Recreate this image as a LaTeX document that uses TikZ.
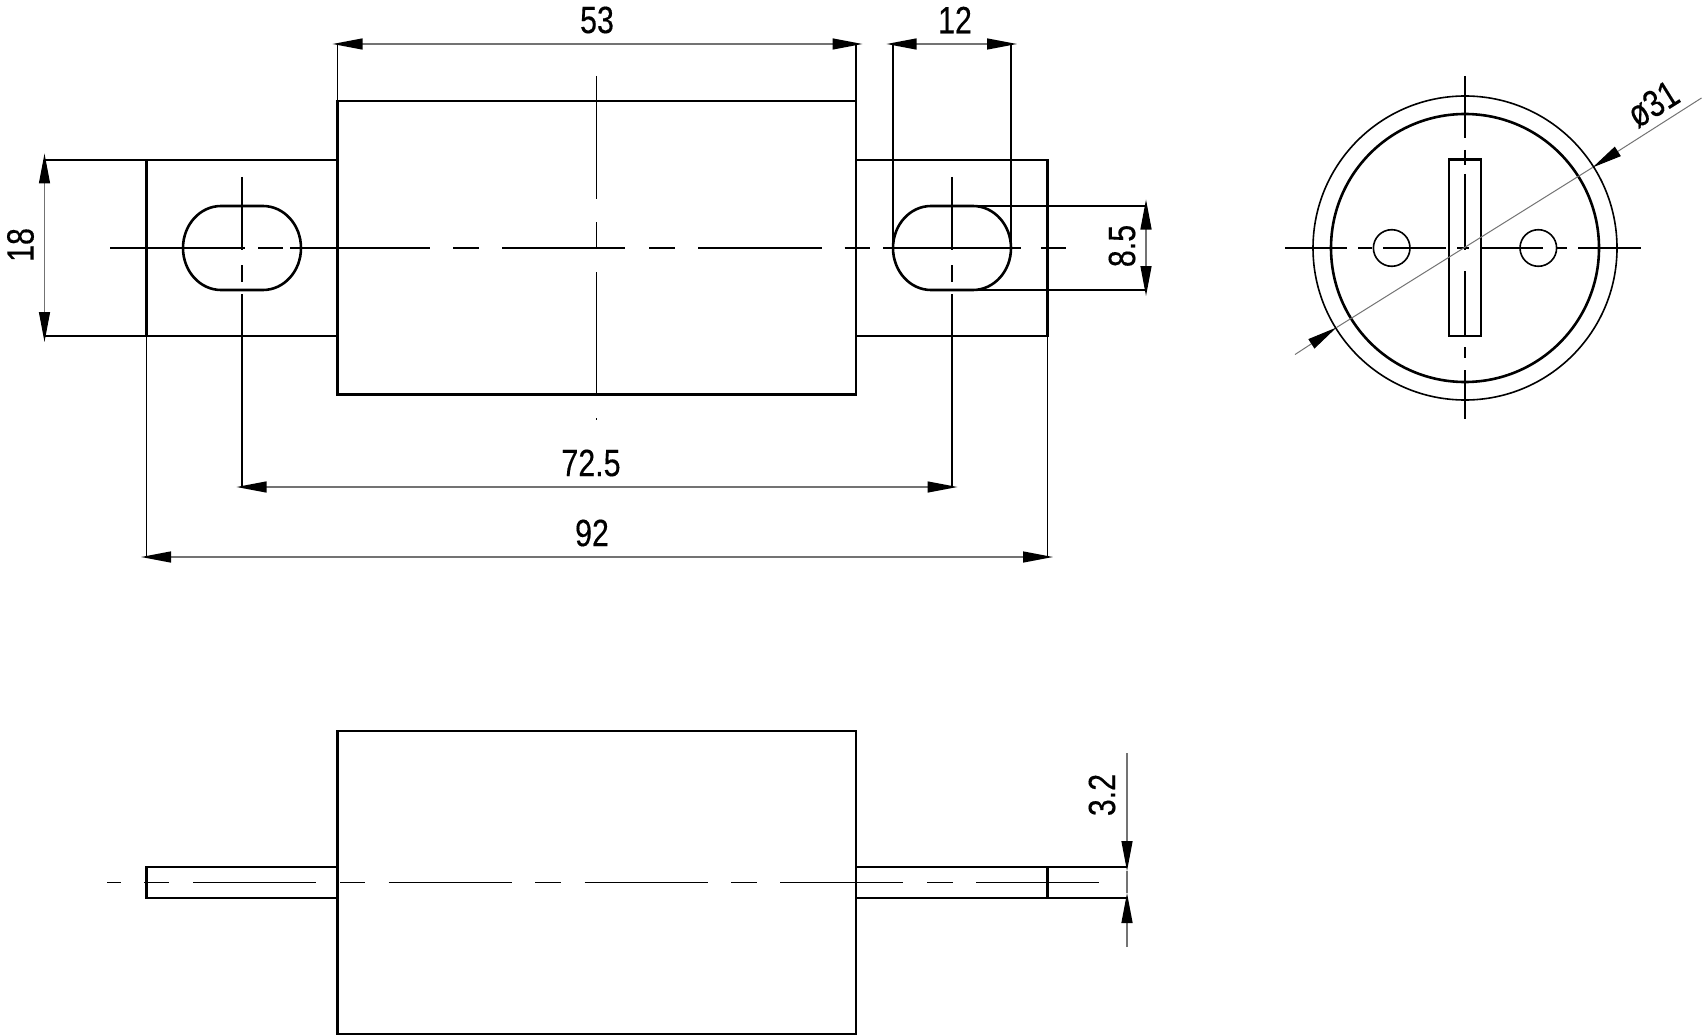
\documentclass[tikz,border=0pt]{standalone}
\usepackage{fontspec}
\usetikzlibrary{arrows.meta}
\newfontfamily\dimfont[FakeStretch=0.8,FakeBold=0.3]{Liberation Sans}
\tikzset{
  outline/.style={draw=black, line width=2.6pt},
  thinline/.style={draw=black, line width=1.6pt},
  dimline/.style={draw=black!55, line width=1.3pt},
  dimtip/.style={-{Triangle[length=30pt,width=11pt,color=black]}},
  bothtips/.style={{Triangle[length=30pt,width=11pt,color=black]}-{Triangle[length=30pt,width=11pt,color=black]}},
  dimtext/.style={inner sep=0pt, font=\dimfont\fontsize{38}{38}\selectfont},
}

\begin{document}
\begin{tikzpicture}[x=1pt,y=-1pt]
\useasboundingbox (0,0) rectangle (1702,1035);

% front view
\draw[outline] (146.5,160) rectangle (337.5,336);
\draw[outline] (856,160) rectangle (1047.5,336);
\draw[outline, fill=white] (337.5,101) rectangle (856,394.5);
\foreach \cx in {242,952}
  \draw[outline] (\cx-21,206) -- (\cx+21,206)
    arc[start angle=-90,end angle=90,x radius=38,y radius=42]
    -- (\cx-21,290)
    arc[start angle=90,end angle=270,x radius=38,y radius=42] -- cycle;

% center lines
\foreach \a/\b in {110/245,258/283,290/430,453/479,502/625,649/675,698/822,844.5/870,883/1021,1041/1066}
  \draw[thinline] (\a,248) -- (\b,248);
\foreach \cx in {242,952}
  \foreach \a/\b in {177/250,265/282,294/488}
    \draw[thinline] (\cx,\a) -- (\cx,\b);
\foreach \a/\b in {76/199,222/248,272/394,418/420}
  \draw[thinline] (596.5,\a) -- (596.5,\b);

% extension lines
\draw[thinline] (337.5,44) -- (337.5,101);
\draw[thinline] (856,44) -- (856,160);
\draw[thinline] (893,44) -- (893,248);
\draw[thinline] (1011,44) -- (1011,248);
\draw[thinline] (44.5,160) -- (146.5,160);
\draw[thinline] (44.5,336) -- (146.5,336);
\draw[thinline] (146.5,336) -- (146.5,557);
\draw[thinline] (1047.5,336) -- (1047.5,557);
\draw[thinline] (973,206) -- (1146,206);
\draw[thinline] (973,290) -- (1146,290);

% dimensions
\draw[dimline, bothtips] (332.5,44) -- (862.5,44);
\draw[dimline, bothtips] (886.5,44) -- (1017,44);
\draw[dimline, bothtips] (44.5,153.5) -- (44.5,342);
\draw[dimline, bothtips] (1146,199.5) -- (1146,296);
\draw[dimline, bothtips] (236.5,487) -- (957.5,487);
\draw[dimline, bothtips] (141,557) -- (1053,557);
\node[dimtext] (dim53) at (597,20) {53};
\node[dimtext] (dim12) at (955,20) {12};
\node[dimtext, rotate=90] (dim18) at (20.5,245) {18};
\node[dimtext, rotate=90] (dim85) at (1122,246) {8.5};
\node[dimtext] (dim725) at (591,463) {72.5};
\node[dimtext] (dim92) at (592,533) {92};

% end view
\coordinate (end_c) at (1465,248);
\draw[thinline] (end_c) circle[radius=152];
\draw[outline] (end_c) circle[radius=134];
\draw[thinline] (1391.7,248) circle[radius=18.3];
\draw[thinline] (1538.3,248) circle[radius=18.3];
\draw[outline] (1449,159.5) rectangle (1481,336);
\foreach \a/\b in {76/138,150/165,174/250,271/336,347/358,370/419}
  \draw[thinline] (1465,\a) -- (1465,\b);
\foreach \a/\b in {1285/1347,1358/1372,1383/1446,1457/1469,1482/1543,1557/1567,1578/1641}
  \draw[thinline] (\a,248) -- (\b,248);
\coordinate (dia_a) at (1295,354.5);
\coordinate (dia_b) at (1336.5,327.5);
\coordinate (dia_c) at (1592.5,167.5);
\coordinate (dia_d) at (1701.5,98);
\draw[dimline, line width=1pt] (dia_b) -- (dia_c);
\draw[dimline, line width=1pt, dimtip] (dia_a) -- (dia_b);
\draw[dimline, line width=1pt, dimtip] (dia_d) -- (dia_c);
\node[dimtext, rotate=32] (dim31) at (1653,104) {ø31};

% side view
\draw[outline] (146.5,867) rectangle (337.5,898);
\draw[outline] (856,867) rectangle (1047.5,898);
\draw[outline, fill=white] (337.5,731) rectangle (856,1034);
\foreach \a/\b in {107/121,144/169,193/316,340/365,388.5/512,535/561,584.5/708,731/757,780/903,927/953,976/1099}
  \draw[thinline] (\a,882.5) -- (\b,882.5);
\draw[thinline] (1047.5,867) -- (1127,867);
\draw[thinline] (1047.5,898) -- (1127,898);
\draw[dimline] (1127,871) -- (1127,893);
\draw[dimline, dimtip] (1127,753) -- (1127,871);
\draw[dimline, dimtip] (1127,947) -- (1127,893);
\node[dimtext, rotate=90] (dim32) at (1102,795) {3.2};

\end{tikzpicture}
\end{document}
